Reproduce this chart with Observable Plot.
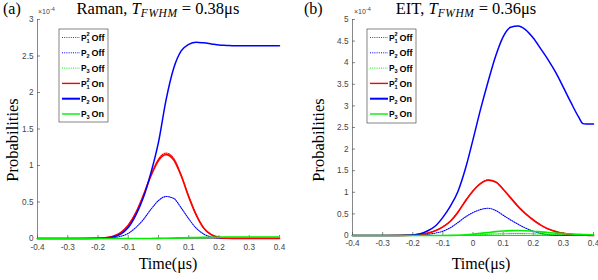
<!DOCTYPE html>
<html><head><meta charset="utf-8">
<script src="https://cdn.jsdelivr.net/npm/d3@7"></script>
<script src="https://cdn.jsdelivr.net/npm/@observablehq/plot@0.6"></script>
<style>
body{margin:0;background:#fff;}
#wrap{position:relative;width:598px;height:280px;overflow:hidden;}
#overlay{position:absolute;left:0;top:0;pointer-events:none;}
</style>
</head><body>
<div id="wrap"></div>
<script>
// ---------- data ----------
const xTicks = [-0.4,-0.3,-0.2,-0.1,0,0.1,0.2,0.3,0.4];
const yTicksA = [0,0.5,1,1.5,2,2.5,3];
const yTicksB = [0,0.5,1,1.5,2,2.5,3,3.5,4,4.5,5];

const timeA = [-0.4,-0.3,-0.2,-0.175,-0.15,-0.125,-0.1,-0.075,-0.05,-0.025,0,0.025,0.05,0.075,0.1,0.125,0.15,0.175,0.2,0.225,0.25,0.275,0.3,0.35,0.4];
const p1OffA = [0,0,0.003,0.01,0.03,0.08,0.18,0.35,0.59,0.87,1.09,1.17,1.1,0.87,0.58,0.32,0.14,0.05,0.015,0.004,0.001,0,0,0,0];
const p2OffA = [0,0,0.001,0.004,0.012,0.03,0.07,0.15,0.26,0.4,0.52,0.575,0.55,0.42,0.27,0.14,0.06,0.02,0.006,0.002,0,0,0,0,0];
const p3OffA = [0,0,0,0,0,0,0,0,0,0.001,0.002,0.003,0.005,0.007,0.009,0.011,0.012,0.013,0.014,0.015,0.015,0.015,0.015,0.015,0.015];
const p1OnA  = [0,0,0.003,0.01,0.03,0.08,0.18,0.35,0.59,0.86,1.07,1.15,1.08,0.86,0.57,0.32,0.14,0.05,0.015,0.004,0.001,0,0,0,0];
const p2OnA  = [0,0,0.002,0.006,0.02,0.06,0.15,0.32,0.56,0.9,1.32,1.9,2.33,2.57,2.66,2.69,2.68,2.665,2.65,2.645,2.64,2.64,2.64,2.64,2.64];
const p3OnA  = [0,0,0,0,0,0,0,0,0,0.001,0.002,0.004,0.006,0.009,0.012,0.014,0.016,0.017,0.018,0.019,0.019,0.02,0.02,0.02,0.02];

const timeB = [-0.4,-0.3,-0.25,-0.2,-0.175,-0.15,-0.125,-0.1,-0.075,-0.05,-0.025,0,0.025,0.05,0.075,0.1,0.125,0.15,0.175,0.2,0.225,0.25,0.275,0.3,0.325,0.35,0.365,0.375,0.4];
const p1OffB = [0,0,0.001,0.01,0.026,0.056,0.112,0.2,0.335,0.545,0.805,1.035,1.205,1.285,1.245,1.075,0.875,0.675,0.505,0.362,0.242,0.152,0.09,0.05,0.025,0.012,0.008,0.006,0.003];
const p2OffB = [0,0,0.001,0.005,0.012,0.027,0.055,0.1,0.18,0.3,0.43,0.53,0.6,0.63,0.58,0.47,0.36,0.26,0.17,0.1,0.05,0.02,0.008,0.003,0.001,0,0,0,0];
const p3OffB = [0,0,0,0,0,0,0,0,0.001,0.003,0.006,0.012,0.02,0.028,0.035,0.04,0.043,0.044,0.042,0.038,0.033,0.028,0.023,0.019,0.015,0.012,0.01,0.009,0.007];
const p1OnB  = [0,0,0.001,0.01,0.025,0.055,0.11,0.2,0.33,0.54,0.8,1.03,1.2,1.28,1.24,1.07,0.87,0.67,0.5,0.36,0.24,0.15,0.09,0.05,0.025,0.012,0.008,0.006,0.003];
const p2OnB  = [0,0,0.002,0.01,0.04,0.11,0.22,0.42,0.68,1.02,1.55,2.22,2.92,3.56,4.15,4.6,4.82,4.85,4.76,4.57,4.32,4.06,3.77,3.43,3.08,2.75,2.59,2.58,2.58];
const p3OnB  = [0,0,0,0,0,0,0,0,0.002,0.006,0.015,0.03,0.05,0.07,0.09,0.105,0.113,0.115,0.11,0.1,0.085,0.07,0.055,0.045,0.035,0.027,0.022,0.02,0.015];

const legendSub = ["1","2","3","1","2","3"];
const legendSup = ["2","","","2","",""];
const legendState = ["Off","Off","Off","On","On","On"];
const titleA = {tag:"(a)", lead:"Raman, ", value:" = 0.38μs"};
const titleB = {tag:"(b)", lead:"EIT, ", value:" = 0.36μs"};
const xLabel = "Time(μs)";
const yLabel = "Probabilities";
const expLabel = "×10";
const expSup = "-4";

// ---------- styles ----------
const colors = ["#ff0000","#0000ff","#00f000","#ff0000","#0000ff","#00f000"];
const dashes = ["1,1.2","1,1.2","1,1.2",null,null,null];
const widths = [1.1,1.1,1.1,1.7,1.5,1.6];
const axisCol = "#555";
const fmt = d => String(Math.round(d*10)/10);
const sans = "Liberation Sans, Arial, sans-serif";
const serif = "Liberation Serif, Times New Roman, serif";

function panel(time, series, yMax, yTicks, m, w, h, xPad) {
  const marks = [];
  const fw = w - m.left - m.right, fh = h - m.top - m.bottom;
  marks.push(
    Plot.ruleX([xTicks[0]], {stroke: axisCol, strokeWidth: 0.7}),
    Plot.ruleY([0], {stroke: axisCol, strokeWidth: 0.7}),
    Plot.tickY(yTicks, {y: d => d, stroke: axisCol, strokeWidth: 0.7, insetRight: fw - 3}),
    Plot.tickX(xTicks, {x: d => d, stroke: axisCol, strokeWidth: 0.7, insetTop: fh - 3}),
    Plot.axisX(xTicks, {tickSize: 0, tickPadding: xPad, tickFormat: fmt, fontSize: 8.2, fill: "#444", fontFamily: sans, label: null}),
    Plot.axisY(yTicks, {tickSize: 0, tickPadding: 4, tickFormat: fmt, fontSize: 8.2, fill: "#444", fontFamily: sans, label: null})
  );
  series.forEach((vals, i) => {
    const data = time.map((t, j) => ({t, v: vals[j]}));
    marks.push(Plot.line(data, {x:"t", y:"v", stroke: colors[i], strokeWidth: widths[i],
      strokeDasharray: dashes[i] || undefined, curve:"monotone-x"}));
  });
  return Plot.plot({
    width: w, height: h,
    marginLeft: m.left, marginRight: m.right, marginTop: m.top, marginBottom: m.bottom,
    x: {domain: [xTicks[0], xTicks[xTicks.length-1]]},
    y: {domain: [0, yMax]},
    style: {background: "transparent", overflow: "visible"},
    marks
  });
}

const wrap = document.getElementById("wrap");
const svgA = panel(timeA, [p1OffA,p2OffA,p3OffA,p1OnA,p2OnA,p3OnA], 3, yTicksA, {left:37,right:20,top:19,bottom:42}, 299, 280, 6);
const svgB = panel(timeB, [p1OffB,p2OffB,p3OffB,p1OnB,p2OnB,p3OnB], 5, yTicksB, {left:53,right:5,top:19,bottom:45}, 299, 280, 5);
svgA.style.position = "absolute"; svgA.style.left = "0px"; svgA.style.top = "0px";
svgB.style.position = "absolute"; svgB.style.left = "299px"; svgB.style.top = "0px";
wrap.appendChild(svgA); wrap.appendChild(svgB);

// ---------- overlay: titles, labels, legends ----------
const NS = "http://www.w3.org/2000/svg";
const ov = document.createElementNS(NS, "svg");
ov.setAttribute("id","overlay"); ov.setAttribute("width",598); ov.setAttribute("height",280);
wrap.appendChild(ov);
function el(tag, attrs, parent, text) {
  const e = document.createElementNS(NS, tag);
  for (const k in attrs) e.setAttribute(k, attrs[k]);
  if (text != null) e.textContent = text;
  (parent || ov).appendChild(e);
  return e;
}

function title(t, tagX, cx) {
  el("text", {x: tagX, y: 14, "font-family": serif, "font-size": 16}, ov, t.tag);
  const tx = el("text", {x: cx, y: 14, "text-anchor": "middle", "font-family": serif, "font-size": 16.5});
  el("tspan", {}, tx, t.lead);
  el("tspan", {"font-style": "italic"}, tx, "T");
  el("tspan", {"font-style": "italic", "font-size": 11.5, dy: 3, "letter-spacing": 0.6}, tx, "FWHM");
  el("tspan", {dy: -3}, tx, t.value);
}
title(titleA, 3, 158);
title(titleB, 304, 466);

function labels(yx, xx, axX) {
  el("text", {x: yx, y: 140, "text-anchor": "middle", "font-family": serif, "font-size": 16.5,
    transform: `rotate(-90 ${yx} 140)`}, ov, yLabel);
  el("text", {x: xx, y: 269, "text-anchor": "middle", "font-family": serif, "font-size": 16}, ov, xLabel);
  const e = el("text", {x: axX, y: 14, "font-family": sans, "font-size": 7, fill: "#444"});
  el("tspan", {}, e, expLabel);
  el("tspan", {dy: -3, "font-size": 5.5}, e, expSup);
}
labels(18, 168, 38);
labels(324, 481, 354);

function legend(x0, y0, w, h) {
  el("rect", {x: x0, y: y0, width: w, height: h, fill: "#fff", stroke: "#333", "stroke-width": 0.6});
  for (let i = 0; i < 6; i++) {
    const y = y0 + 8.5 + i * 15.3;
    el("line", {x1: x0 + 3, x2: x0 + 21, y1: y, y2: y, stroke: colors[i], "stroke-width": i === 4 ? 2 : (dashes[i] ? 1 : 1.4),
      "stroke-dasharray": dashes[i] || "none"});
    el("text", {x: x0 + 22, y: y + 3.2, "font-family": sans, "font-size": 8.4, "font-weight": "bold"}, ov, "P");
    el("text", {x: x0 + 27.6, y: y + 5.3, "font-family": sans, "font-size": 5.6, "font-weight": "bold"}, ov, legendSub[i]);
    if (legendSup[i]) el("text", {x: x0 + 27.6, y: y - 1.2, "font-family": sans, "font-size": 5.6, "font-weight": "bold"}, ov, legendSup[i]);
    el("text", {x: x0 + 32.5, y: y + 3.4, "font-family": sans, "font-size": 9, "font-weight": "bold"}, ov, legendState[i]);
  }
}
legend(59, 29, 49, 93);
legend(367, 29, 49, 94);
</script>
</body></html>
